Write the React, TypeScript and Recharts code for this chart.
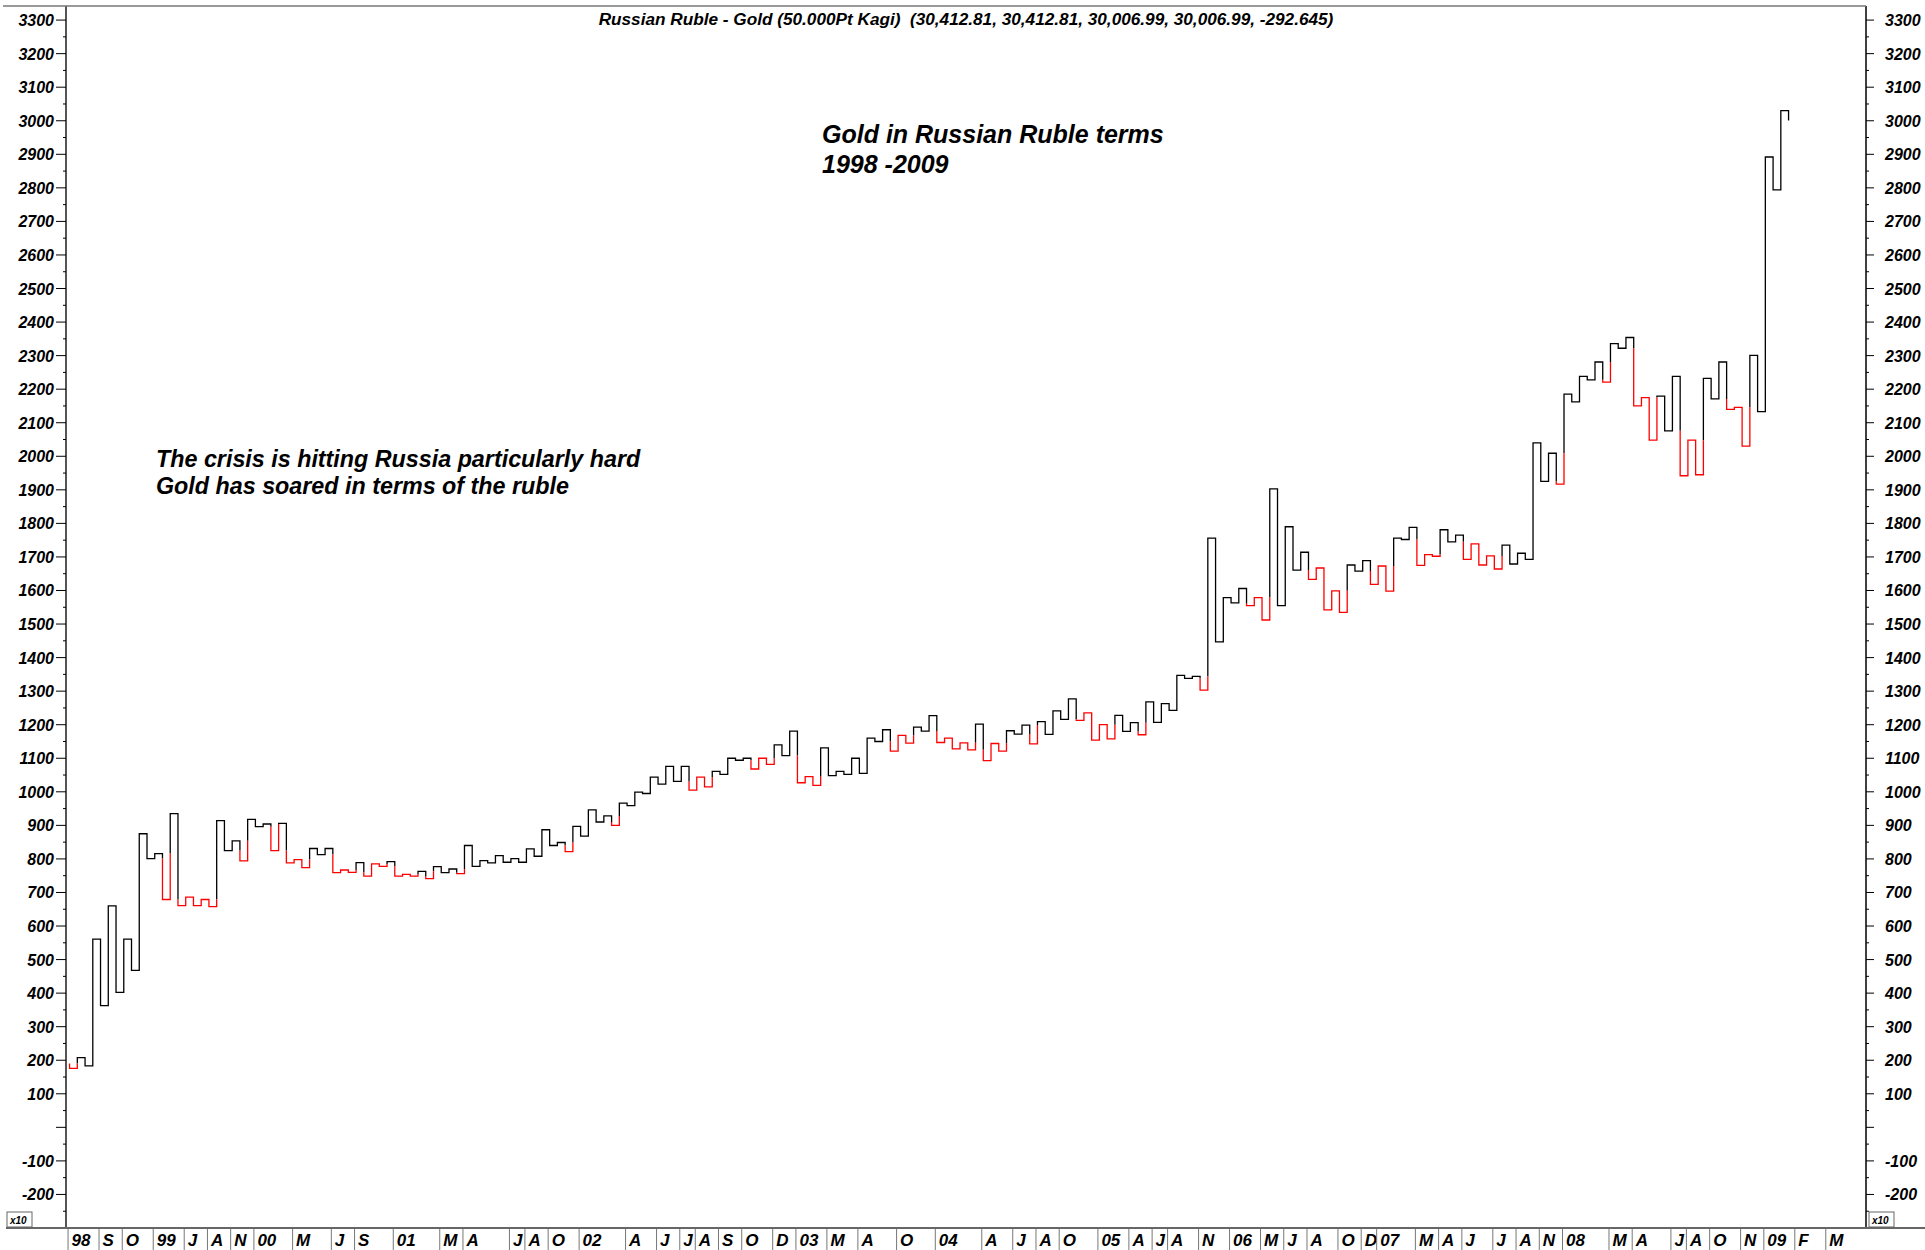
import React from 'react';
import { LineChart, Line, XAxis, YAxis } from 'recharts';

const FONT = '"Liberation Sans", Arial, sans-serif';

// Kagi reversal levels (price x10 units), one per column, left to right
const kagiStart = 190;
const kagiLevels = [
  176, 208, 183, 561, 363, 660, 402, 561, 468, 875, 801, 816,
  679, 935, 661, 686, 661, 679, 658, 914, 825, 854, 794, 918,
  896, 904, 825, 906, 788, 798, 774, 831, 813, 831, 759, 767,
  760, 789, 749, 785, 778, 792, 749, 754, 749, 763, 741, 777,
  759, 770, 756, 840, 778, 795, 788, 810, 790, 801, 790, 830,
  808, 887, 840, 849, 822, 897, 868, 946, 910, 928, 900, 966,
  959, 999, 995, 1044, 1023, 1076, 1031, 1076, 1005, 1044, 1015, 1061,
  1052, 1100, 1094, 1100, 1068, 1100, 1082, 1140, 1108, 1181, 1027, 1045,
  1019, 1131, 1048, 1061, 1052, 1100, 1055, 1160, 1150, 1185, 1121, 1168,
  1145, 1193, 1181, 1227, 1147, 1160, 1128, 1146, 1125, 1202, 1093, 1144,
  1121, 1182, 1172, 1199, 1143, 1209, 1171, 1241, 1216, 1277, 1213, 1235,
  1154, 1200, 1158, 1228, 1180, 1206, 1170, 1268, 1207, 1263, 1243, 1347,
  1338, 1344, 1303, 1756, 1447, 1579, 1563, 1606, 1555, 1579, 1512, 1903,
  1555, 1790, 1661, 1714, 1633, 1667, 1542, 1599, 1535, 1676, 1658, 1689,
  1618, 1673, 1598, 1756, 1752, 1788, 1675, 1707, 1702, 1781, 1745, 1765,
  1693, 1739, 1676, 1703, 1664, 1735, 1679, 1711, 1693, 2040, 1925, 2009,
  1917, 2185, 2162, 2238, 2228, 2281, 2221, 2336, 2322, 2354, 2150, 2175,
  2048, 2179, 2076, 2238, 1942, 2048, 1945, 2232, 2171, 2281, 2140, 2146,
  2030, 2301, 2133, 2892, 2794, 3030, 3001,
];

// month labels on the bottom band and the Kagi column where each starts
const monthLabels = [
  '98', 'S', 'O', '99', 'J', 'A', 'N', '00', 'M', 'J',
  'S', '01', 'M', 'A', 'J', 'A', 'O', '02', 'A', 'J',
  'J', 'A', 'S', 'O', 'D', '03', 'M', 'A', 'O', '04',
  'A', 'J', 'A', 'O', '05', 'A', 'J', 'A', 'N', '06',
  'M', 'J', 'A', 'O', 'D', '07', 'M', 'A', 'J', 'J',
  'A', 'N', '08', 'M', 'A', 'J', 'A', 'O', 'N', '09',
  'F', 'M',
];
const monthColumns = [
  0, 4, 7, 11, 15, 18, 21, 24, 29, 34,
  37, 42, 48, 51, 57, 59, 62, 66, 72, 76,
  79, 81, 84, 87, 91, 94, 98, 102, 107, 112,
  118, 122, 125, 128, 133, 137, 140, 142, 146, 150,
  154, 157, 160, 164, 167, 169, 174, 177, 180, 184,
  187, 190, 193, 199, 202, 207, 209, 212, 216, 219,
  223, 227,
];

const yLabelValues = [
  3300, 3200, 3100, 3000, 2900, 2800, 2700, 2600, 2500, 2400, 2300, 2200,
  2100, 2000, 1900, 1800, 1700, 1600, 1500, 1400, 1300, 1200, 1100, 1000,
  900, 800, 700, 600, 500, 400, 300, 200, 100, -100, -200,
];
const yTicks: number[] = [];
for (let v = -250; v <= 3300; v += 50) yTicks.push(v);

type Color = 'black' | 'red';
type Row = { x: number; black: number | null; red: number | null };
type P = { x: number; y: number };

// Kagi rule: turns black (yang) above previous shoulder, red (yin) below previous waist
function buildRows(): Row[] {
  let color: Color = 'red';
  let cur: P = { x: 0, y: kagiStart };
  const runs: { color: Color; pts: P[] }[] = [{ color, pts: [cur] }];
  const goTo = (p: P, c: Color) => {
    const last = runs[runs.length - 1];
    if (last.color !== c) runs.push({ color: c, pts: [cur, p] });
    else last.pts.push(p);
    cur = p;
  };
  kagiLevels.forEach((v, k) => {
    const prev = k === 0 ? kagiStart : kagiLevels[k - 1];
    const ref = k === 0 ? null : k === 1 ? kagiStart : kagiLevels[k - 2];
    if (ref !== null) {
      if (v > prev && color === 'red' && v > ref) {
        goTo({ x: k, y: ref }, color);
        color = 'black';
      } else if (v < prev && color === 'black' && v < ref) {
        goTo({ x: k, y: ref }, color);
        color = 'red';
      }
    }
    goTo({ x: k, y: v }, color);
    if (k < kagiLevels.length - 1) goTo({ x: k + 1, y: v }, color);
  });
  const rows: Row[] = [];
  runs.forEach((r) =>
    r.pts.forEach((p) =>
      rows.push({
        x: p.x,
        black: r.color === 'black' ? p.y : null,
        red: r.color === 'red' ? p.y : null,
      })
    )
  );
  return rows;
}

const rows = buildRows();

const labelStyle = {
  fontFamily: FONT,
  fontWeight: 'bold' as const,
  fontStyle: 'italic' as const,
  fontSize: 16,
  fill: '#000',
};

const LeftTick = (props: any) => {
  const { x, y, payload } = props;
  const v = payload.value;
  const major = v % 100 === 0;
  return (
    <g>
      <line x1={x} x2={x - (major ? 10 : 3)} y1={y} y2={y} stroke="#000" strokeWidth={1} />
      {yLabelValues.includes(v) && (
        <text x={x - 12} y={y + 6} textAnchor="end" {...labelStyle}>
          {v}
        </text>
      )}
    </g>
  );
};

const RightTick = (props: any) => {
  const { x, y, payload } = props;
  const v = payload.value;
  const major = v % 100 === 0;
  return (
    <g>
      <line x1={x} x2={x + (major ? 8 : 3)} y1={y} y2={y} stroke="#000" strokeWidth={1} />
      {yLabelValues.includes(v) && (
        <text x={x + 19} y={y + 6} textAnchor="start" {...labelStyle}>
          {v}
        </text>
      )}
    </g>
  );
};

const MonthTick = (props: any) => {
  const { x, y, payload } = props;
  const i = monthColumns.indexOf(payload.value);
  return (
    <g>
      <line x1={x - 1.5} x2={x - 1.5} y1={y} y2={y + 22} stroke="#777" strokeWidth={1} />
      <text x={x + 2} y={y + 18} textAnchor="start" {...labelStyle} fontSize={17}>
        {monthLabels[i]}
      </text>
    </g>
  );
};

const textStyle = {
  fontFamily: FONT,
  fontWeight: 'bold' as const,
  fontStyle: 'italic' as const,
  fill: '#000',
};

export default function App() {
  return (
    <div style={{ position: 'absolute', left: 0, top: 0, width: 1925, height: 1250, background: '#fff' }}>
      <LineChart
        width={1925}
        height={1250}
        data={rows}
        margin={{ top: 6, right: 0, bottom: 0, left: 0 }}
      >
        <XAxis
          type="number"
          dataKey="x"
          domain={[-0.46, 232]}
          ticks={monthColumns}
          interval={0}
          height={22}
          tickSize={0}
          tickMargin={0}
          axisLine={false}
          tickLine={false}
          tick={(p: any) => <MonthTick {...p} />}
          allowDataOverflow
        />
        <YAxis
          yAxisId="left"
          type="number"
          domain={[-300, 3342]}
          ticks={yTicks}
          interval={0}
          width={66}
          tickSize={0}
          tickMargin={0}
          tickLine={false}
          axisLine={{ stroke: '#555', strokeWidth: 2 }}
          tick={(p: any) => <LeftTick {...p} />}
          allowDataOverflow
        />
        <YAxis
          yAxisId="right"
          orientation="right"
          type="number"
          domain={[-300, 3342]}
          ticks={yTicks}
          interval={0}
          width={59}
          tickSize={0}
          tickMargin={0}
          tickLine={false}
          axisLine={{ stroke: '#000', strokeWidth: 1.5 }}
          tick={(p: any) => <RightTick {...p} />}
          allowDataOverflow
        />
        <Line
          yAxisId="left"
          type="linear"
          dataKey="black"
          stroke="#000"
          strokeWidth={1.3}
          dot={false}
          activeDot={false}
          connectNulls={false}
          isAnimationActive={false}
        />
        <Line
          yAxisId="right"
          type="linear"
          dataKey="red"
          stroke="#ff0000"
          strokeWidth={1.3}
          dot={false}
          activeDot={false}
          connectNulls={false}
          isAnimationActive={false}
        />
      </LineChart>
      <svg
        width={1925}
        height={1250}
        style={{ position: 'absolute', left: 0, top: 0, pointerEvents: 'none' }}
      >
        <line x1={3} x2={1866} y1={6} y2={6} stroke="#777" strokeWidth={1.5} />
        <line x1={6} x2={1925} y1={1228} y2={1228} stroke="#666" strokeWidth={2} />
        <rect x={7} y={1212} width={25} height={15} fill="#fff" stroke="#666" strokeWidth={1} />
        <text x={10} y={1224} fontFamily={FONT} fontStyle="italic" fontWeight="bold" fontSize={10}>
          x10
        </text>
        <rect x={1869} y={1212} width={25} height={15} fill="#fff" stroke="#666" strokeWidth={1} />
        <text x={1872} y={1224} fontFamily={FONT} fontStyle="italic" fontWeight="bold" fontSize={10}>
          x10
        </text>
        <text x={966} y={25} textAnchor="middle" fontSize={17.2} style={{ whiteSpace: 'pre' }} {...textStyle}>
          {'Russian Ruble - Gold (50.000Pt Kagi)  (30,412.81, 30,412.81, 30,006.99, 30,006.99, -292.645)'}
        </text>
        <text x={822} y={143} fontSize={25} {...textStyle}>
          Gold in Russian Ruble terms
        </text>
        <text x={822} y={173} fontSize={25} {...textStyle}>
          1998 -2009
        </text>
        <text x={156} y={467} fontSize={23.3} {...textStyle}>
          The crisis is hitting Russia particularly hard
        </text>
        <text x={156} y={494} fontSize={23.3} {...textStyle}>
          Gold has soared in terms of the ruble
        </text>
      </svg>
    </div>
  );
}
